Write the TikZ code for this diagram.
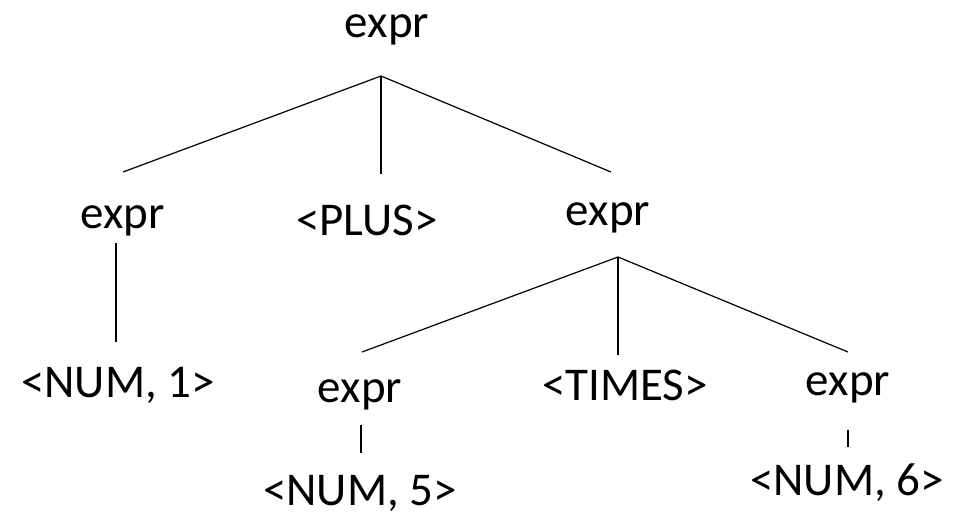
\documentclass[tikz,border=0pt]{standalone}
\usepackage{fontspec}
\setmainfont{Carlito}
\usetikzlibrary{calc}
\begin{document}
\begin{tikzpicture}[x=1pt,y=-1pt,
  lbl/.style={anchor=base,inner sep=0pt,font=\fontsize{47}{50}\selectfont},
  edge/.style={line width=1.2pt,black}]
\useasboundingbox[fill=white] (0,0) rectangle (970,515);
% nodes (base points)
\node[lbl] (root) at (387,37) {expr};
\node[lbl] (e1) at (123,228) {expr};
\node[lbl] (plus) at (367,235) {<PLUS>};
\node[lbl] (e2) at (608,225) {expr};
\node[lbl] (n1) at (118,397) {<NUM, 1>};
\node[lbl] (e3) at (360,402) {expr};
\node[lbl] (times) at (625,400) {<TIMES>};
\node[lbl] (e4) at (848,395) {expr};
\node[lbl] (n5) at (360,505) {<NUM, 5>};
\node[lbl] (n6) at (847,495) {<NUM, 6>};
% connectors
\coordinate (rootA) at ($(root.base)+(-6,39)$);
\draw[edge] (rootA) -- ($(e1.base)+(0,-56)$);
\draw[edge] (rootA) -- ($(plus.base)+(14,-61)$);
\draw[edge] (rootA) -- ($(e2.base)+(3,-53)$);
\draw[edge] ($(e1.base)+(-7,15)$) -- ($(n1.base)+(-2,-55)$);
\coordinate (e2A) at ($(e2.base)+(10,32)$);
\draw[edge] (e2A) -- ($(e3.base)+(2,-50)$);
\draw[edge] (e2A) -- ($(times.base)+(-7,-45)$);
\draw[edge] (e2A) -- ($(e4.base)+(0,-43)$);
\draw[edge] ($(e3.base)+(1,23)$) -- ($(n5.base)+(1,-52)$);
\draw[edge] ($(e4.base)+(0,35)$) -- ($(n6.base)+(1,-48)$);
\end{tikzpicture}
\end{document}
